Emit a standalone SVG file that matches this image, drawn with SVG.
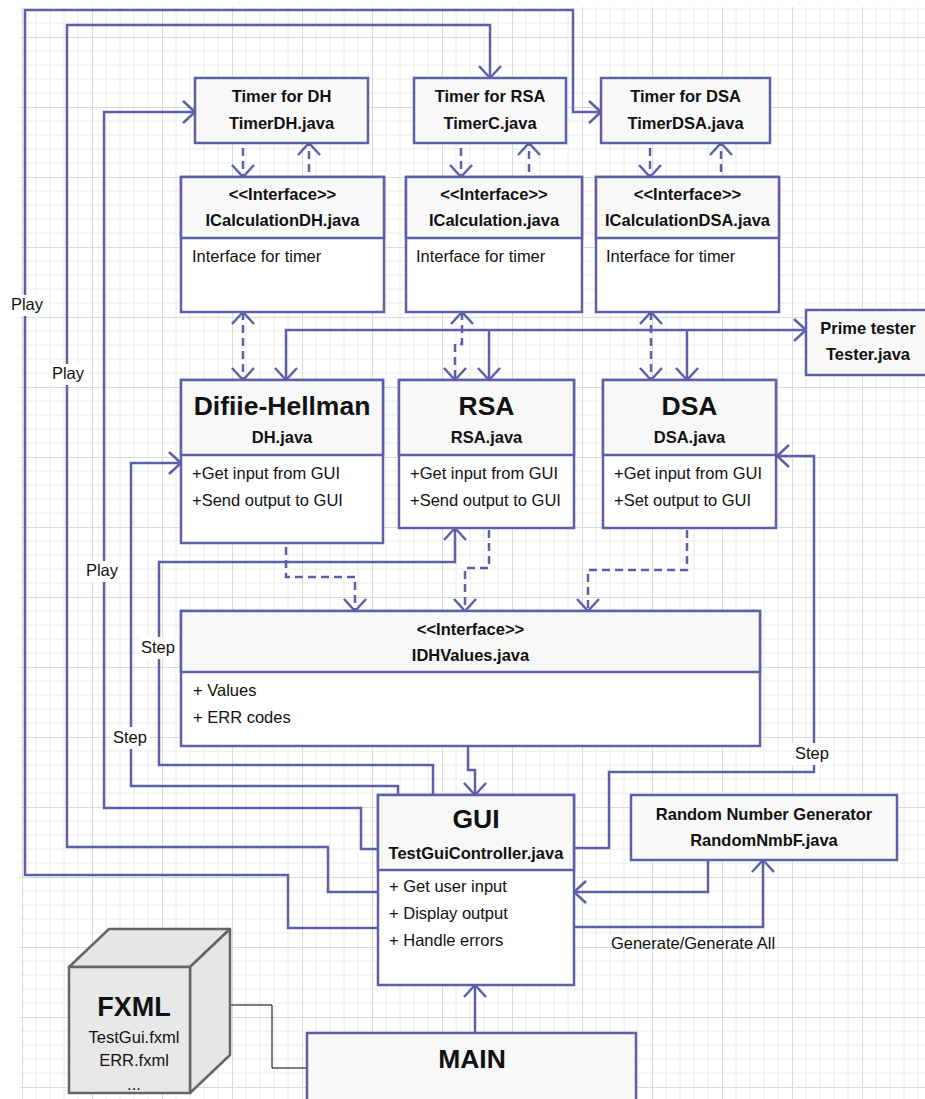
<svg xmlns="http://www.w3.org/2000/svg" width="925" height="1099" viewBox="0 0 925 1099">
<defs>
<pattern id="grid" x="22" y="37" width="70" height="70" patternUnits="userSpaceOnUse">
<path d="M14,0 V70 M28,0 V70 M42,0 V70 M56,0 V70 M0,14 H70 M0,28 H70 M0,42 H70 M0,56 H70" stroke="#ececec" stroke-width="1" fill="none"/>
<path d="M0.5,0 V70 M0,0.5 H70" stroke="#dadada" stroke-width="1" fill="none"/>
</pattern>
<marker id="arr" viewBox="-16 -16 32 32" markerWidth="32" markerHeight="32" refX="0" refY="0" orient="auto-start-reverse" markerUnits="userSpaceOnUse">
<path d="M-12,-11 L0,0 L-12,11" fill="none" stroke="#5d5fa9" stroke-width="2.5"/>
</marker>
</defs>
<style>
.box{fill:#ffffff;stroke:#5d5fa9;stroke-width:2.5}
.hdr{fill:#f8f8f8;stroke:#5d5fa9;stroke-width:2.5}
.ln{fill:none;stroke:#5d5fa9;stroke-width:2.5}
.dash{fill:none;stroke:#5d5fa9;stroke-width:2.5;stroke-dasharray:8 5}
.ar{marker-end:url(#arr)}
.ar2{marker-start:url(#arr);marker-end:url(#arr)}
text{font-family:"Liberation Sans",Arial,sans-serif;fill:#111}
.b{font-weight:bold;font-size:16.5px;text-anchor:middle}
.big{font-weight:bold;font-size:26.5px;text-anchor:middle}
.t{font-size:16.5px}
.lbl{font-size:16.5px;text-anchor:middle}
.bg{fill:#ffffff}
</style>
<rect x="0" y="0" width="925" height="1099" fill="#ffffff"/>
<rect x="20" y="7" width="905" height="1092" fill="url(#grid)"/>

<g id="connectors">
<path class="ln ar" d="M378,928 H288 V875 H25 V10 H573 V112 H601"/>
<path class="ln ar" d="M378,892 H328 V847 H67 V25 H490 V78"/>
<path class="ln ar" d="M378,849 H361 V808 H104 V112 H195"/>
<path class="ln ar" d="M398,795 V786 H131 V463 H181"/>
<path class="ln ar" d="M433,795 V765 H159 V562 H455 V528"/>
<path class="ln ar" d="M574,848 H609 V772 H814 V456 H777"/>
<path class="ln ar" d="M468,746 V770 H475 V795"/>
<path class="ln ar" d="M708,860 V892 H574"/>
<path class="ln ar" d="M574,927 H763 V860"/>
<path class="ln ar" d="M475,1033 V985"/>
<path d="M230,1005 H272 V1068 H307" fill="none" stroke="#000" stroke-width="1"/>
<path class="dash ar" d="M243,148 V177"/>
<path class="dash ar" d="M309,172 V143"/>
<path class="dash ar" d="M461,148 V177"/>
<path class="dash ar" d="M529,172 V143"/>
<path class="dash ar" d="M650,148 V177"/>
<path class="dash ar" d="M721,172 V143"/>
<path class="dash ar2" d="M243,312 V380"/>
<path class="dash ar2" d="M462,312 V344 H455 V380"/>
<path class="dash ar2" d="M651,312 V380"/>
<path class="ln ar2" d="M286,380 V330 H806"/>
<path class="ln ar" d="M489,330 V380"/>
<path class="ln ar" d="M687,330 V380"/>
<path class="dash ar" d="M286,547 V577 H355 V611"/>
<path class="dash ar" d="M489,530 V568 H465 V611"/>
<path class="dash ar" d="M687,530 V570 H588 V611"/>
<rect class="bg" x="9" y="295" width="36" height="21"/>
<text class="lbl" x="27" y="310">Play</text>
<rect class="bg" x="49" y="364" width="38" height="21"/>
<text class="lbl" x="68" y="379">Play</text>
<rect class="bg" x="83" y="561" width="38" height="21"/>
<text class="lbl" x="102" y="576">Play</text>
<rect class="bg" x="139" y="637" width="39" height="22"/>
<text class="lbl" x="158" y="653">Step</text>
<rect class="bg" x="111" y="727" width="39" height="22"/>
<text class="lbl" x="130" y="743">Step</text>
<rect class="bg" x="792" y="743" width="40" height="22"/>
<text class="lbl" x="812" y="759">Step</text>
<text class="lbl" x="693" y="949">Generate/Generate All</text>
</g>

<g id="timer-dh">
<rect class="hdr" x="195" y="78" width="173" height="65"/>
<text class="b" x="281.5" y="102">Timer for DH</text>
<text class="b" x="281.5" y="129">TimerDH.java</text>
</g>
<g id="timer-rsa">
<rect class="hdr" x="414" y="78" width="152" height="65"/>
<text class="b" x="490" y="102">Timer for RSA</text>
<text class="b" x="490" y="129">TimerC.java</text>
</g>
<g id="timer-dsa">
<rect class="hdr" x="601" y="78" width="169" height="65"/>
<text class="b" x="685.5" y="102">Timer for DSA</text>
<text class="b" x="685.5" y="129">TimerDSA.java</text>
</g>

<g id="icalc-dh">
<rect class="box" x="181" y="177" width="203" height="135"/>
<rect class="hdr" x="181" y="177" width="203" height="61"/>
<text class="b" x="282.5" y="200">&lt;&lt;Interface&gt;&gt;</text>
<text class="b" x="282.5" y="226">ICalculationDH.java</text>
<text class="t" x="192" y="262">Interface for timer</text>
</g>
<g id="icalc-rsa">
<rect class="box" x="406" y="177" width="176" height="135"/>
<rect class="hdr" x="406" y="177" width="176" height="61"/>
<text class="b" x="494" y="200">&lt;&lt;Interface&gt;&gt;</text>
<text class="b" x="494" y="226">ICalculation.java</text>
<text class="t" x="416" y="262">Interface for timer</text>
</g>
<g id="icalc-dsa">
<rect class="box" x="596" y="177" width="183" height="135"/>
<rect class="hdr" x="596" y="177" width="183" height="61"/>
<text class="b" x="687.5" y="200">&lt;&lt;Interface&gt;&gt;</text>
<text class="b" x="687.5" y="226">ICalculationDSA.java</text>
<text class="t" x="606" y="262">Interface for timer</text>
</g>

<g id="prime-tester">
<rect class="hdr" x="806" y="310" width="124" height="65"/>
<text class="b" x="868" y="334">Prime tester</text>
<text class="b" x="868" y="360">Tester.java</text>
</g>

<g id="dh">
<rect class="box" x="181" y="380" width="202" height="163"/>
<rect class="hdr" x="181" y="380" width="202" height="75"/>
<text class="big" x="282" y="415">Difiie-Hellman</text>
<text class="b" x="282" y="443">DH.java</text>
<text class="t" x="192" y="479">+Get input from GUI</text>
<text class="t" x="192" y="506">+Send output to GUI</text>
</g>
<g id="rsa">
<rect class="box" x="399" y="380" width="175" height="148"/>
<rect class="hdr" x="399" y="380" width="175" height="75"/>
<text class="big" x="486.5" y="415">RSA</text>
<text class="b" x="486.5" y="443">RSA.java</text>
<text class="t" x="410" y="479">+Get input from GUI</text>
<text class="t" x="410" y="506">+Send output to GUI</text>
</g>
<g id="dsa">
<rect class="box" x="603" y="380" width="173" height="148"/>
<rect class="hdr" x="603" y="380" width="173" height="75"/>
<text class="big" x="689.5" y="415">DSA</text>
<text class="b" x="689.5" y="443">DSA.java</text>
<text class="t" x="614" y="479">+Get input from GUI</text>
<text class="t" x="614" y="506">+Set output to GUI</text>
</g>

<g id="idhvalues">
<rect class="box" x="181" y="611" width="579" height="135"/>
<rect class="hdr" x="181" y="611" width="579" height="61"/>
<text class="b" x="470.5" y="635">&lt;&lt;Interface&gt;&gt;</text>
<text class="b" x="470.5" y="661">IDHValues.java</text>
<text class="t" x="193" y="696">+ Values</text>
<text class="t" x="193" y="723">+ ERR codes</text>
</g>

<g id="gui">
<rect class="box" x="378" y="795" width="196" height="190"/>
<rect class="hdr" x="378" y="795" width="196" height="75"/>
<text class="big" x="476" y="828">GUI</text>
<text class="b" x="476" y="859">TestGuiController.java</text>
<text class="t" x="389" y="892">+ Get user input</text>
<text class="t" x="389" y="919">+ Display output</text>
<text class="t" x="389" y="946">+ Handle errors</text>
</g>

<g id="rng">
<rect class="hdr" x="631" y="795" width="266" height="65"/>
<text class="b" x="764" y="820">Random Number Generator</text>
<text class="b" x="764" y="846">RandomNmbF.java</text>
</g>

<g id="main">
<rect class="hdr" x="307" y="1033" width="329" height="80"/>
<text class="big" x="472" y="1068">MAIN</text>
</g>

<g id="fxml">
<polygon points="69,967 109,929 230,929 190,967" fill="#e6e6e6" stroke="#666" stroke-width="2.5" stroke-linejoin="round"/>
<polygon points="190,967 230,929 230,1055 190,1093" fill="#e6e6e6" stroke="#666" stroke-width="2.5" stroke-linejoin="round"/>
<rect x="69" y="967" width="121" height="126" fill="#e8e8e8" stroke="#666" stroke-width="2.5"/>
<text class="big" x="134" y="1016" style="font-size:27px">FXML</text>
<text class="t" x="134" y="1043" text-anchor="middle">TestGui.fxml</text>
<text class="t" x="134" y="1066" text-anchor="middle">ERR.fxml</text>
<text class="t" x="134" y="1090" text-anchor="middle">...</text>
</g>
</svg>
